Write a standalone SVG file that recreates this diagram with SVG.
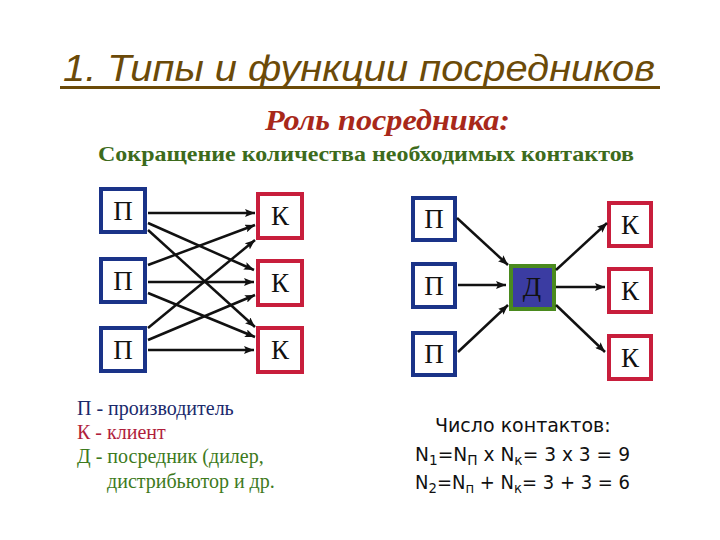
<svg xmlns="http://www.w3.org/2000/svg" width="720" height="540" viewBox="0 0 720 540">
<defs>
<marker id="ah" viewBox="0 0 10 8" refX="10" refY="4" markerWidth="10" markerHeight="8" markerUnits="userSpaceOnUse" orient="auto">
<path d="M0,0 L10,4 L0,8 L2,4 Z" fill="#111"/>
</marker>
</defs>
<style>
.p{fill:#fff;stroke:#1a3388;stroke-width:4}
.k{fill:#fff;stroke:#c81e3c;stroke-width:4}
.bt{font-family:"Liberation Serif",serif;font-size:27px;fill:#111;text-anchor:middle}
.c line{stroke:#111;stroke-width:2.5;marker-end:url(#ah)}
.lg{font-family:"Liberation Serif",serif;font-size:20px}
.n{font-family:"DejaVu Sans","Noto Sans",sans-serif;font-size:19px;fill:#111}
</style>
<rect width="720" height="540" fill="#fff"/>
<g id="title">
<text x="63" y="81" font-family="Liberation Sans,Arial,sans-serif" font-style="italic" font-size="36" fill="#6b4a08" textLength="592" lengthAdjust="spacingAndGlyphs">1. Типы и функции посредников</text>
<rect x="60" y="86" width="600" height="3" fill="#6b4a08"/>
</g>
<text x="265" y="130" font-family="Liberation Serif,serif" font-style="italic" font-weight="bold" font-size="29" fill="#a8281a" textLength="245" lengthAdjust="spacingAndGlyphs">Роль посредника:</text>
<text x="98" y="161" font-family="Liberation Serif,serif" font-weight="bold" font-size="22" fill="#3d6b1c" textLength="536" lengthAdjust="spacingAndGlyphs">Сокращение количества необходимых контактов</text>

<g id="lp1"><rect class="p" x="101" y="189" width="44" height="43"/><text class="bt" x="123" y="220">П</text></g>
<g id="lp2"><rect class="p" x="101" y="259" width="44" height="43"/><text class="bt" x="123" y="290">П</text></g>
<g id="lp3"><rect class="p" x="101" y="328" width="44" height="43"/><text class="bt" x="123" y="359">П</text></g>
<g id="lk1"><rect class="k" x="258" y="194" width="44" height="44"/><text class="bt" x="280" y="225">К</text></g>
<g id="lk2"><rect class="k" x="258" y="261" width="44" height="44"/><text class="bt" x="280" y="292">К</text></g>
<g id="lk3"><rect class="k" x="258" y="328" width="44" height="44"/><text class="bt" x="280" y="359">К</text></g>

<g id="rp1"><rect class="p" x="413" y="198" width="42" height="42"/><text class="bt" x="434" y="228">П</text></g>
<g id="rp2"><rect class="p" x="413" y="264" width="42" height="43"/><text class="bt" x="434" y="295">П</text></g>
<g id="rp3"><rect class="p" x="413" y="333" width="42" height="42"/><text class="bt" x="434" y="363">П</text></g>
<g id="rd"><rect x="511" y="266" width="43" height="43" fill="#3b3ca2" stroke="#4a8a1e" stroke-width="4"/><text class="bt" x="532" y="296">Д</text></g>
<g id="rk1"><rect class="k" x="609" y="203" width="42" height="43"/><text class="bt" x="630" y="234">К</text></g>
<g id="rk2"><rect class="k" x="609" y="269" width="42" height="43"/><text class="bt" x="630" y="300">К</text></g>
<g id="rk3"><rect class="k" x="609" y="336" width="42" height="43"/><text class="bt" x="630" y="367">К</text></g>

<g id="connectors" class="c">
<line x1="148" y1="213" x2="255" y2="213"/>
<line x1="148" y1="223" x2="254" y2="270"/>
<line x1="148" y1="230" x2="255" y2="327"/>
<line x1="148" y1="265" x2="255" y2="225"/>
<line x1="148" y1="282" x2="254" y2="282"/>
<line x1="148" y1="293" x2="255" y2="337"/>
<line x1="148" y1="328" x2="255" y2="240"/>
<line x1="148" y1="340" x2="255" y2="295"/>
<line x1="148" y1="350" x2="254" y2="350"/>
<line x1="457" y1="218" x2="508" y2="265"/>
<line x1="458" y1="285" x2="506" y2="285"/>
<line x1="458" y1="352" x2="508" y2="305"/>
<line x1="556" y1="270" x2="607" y2="223"/>
<line x1="556" y1="287" x2="605" y2="287"/>
<line x1="556" y1="305" x2="605" y2="352"/>
</g>

<g id="legend" class="lg">
<text x="77" y="415" fill="#1a2a6c">П - производитель</text>
<text x="77" y="439" fill="#b01e3c">К - клиент</text>
<text x="77" y="463" fill="#3d7a1c">Д - посредник (дилер,</text>
<text x="107" y="488" fill="#3d7a1c">дистрибьютор и др.</text>
</g>

<g id="counts" class="n">
<text x="435" y="432">Число контактов:</text>
<text x="415" y="461" textLength="215" lengthAdjust="spacingAndGlyphs">N<tspan dy="4" font-size="14">1</tspan><tspan dy="-4">=N</tspan><tspan dy="4" font-size="14">П</tspan><tspan dy="-4"> x N</tspan><tspan dy="4" font-size="14">к</tspan><tspan dy="-4">= 3 x 3 = 9</tspan></text>
<text x="415" y="489" textLength="215" lengthAdjust="spacingAndGlyphs">N<tspan dy="4" font-size="14">2</tspan><tspan dy="-4">=N</tspan><tspan dy="4" font-size="14">п</tspan><tspan dy="-4"> + N</tspan><tspan dy="4" font-size="14">к</tspan><tspan dy="-4">= 3 + 3 = 6</tspan></text>
</g>
</svg>
